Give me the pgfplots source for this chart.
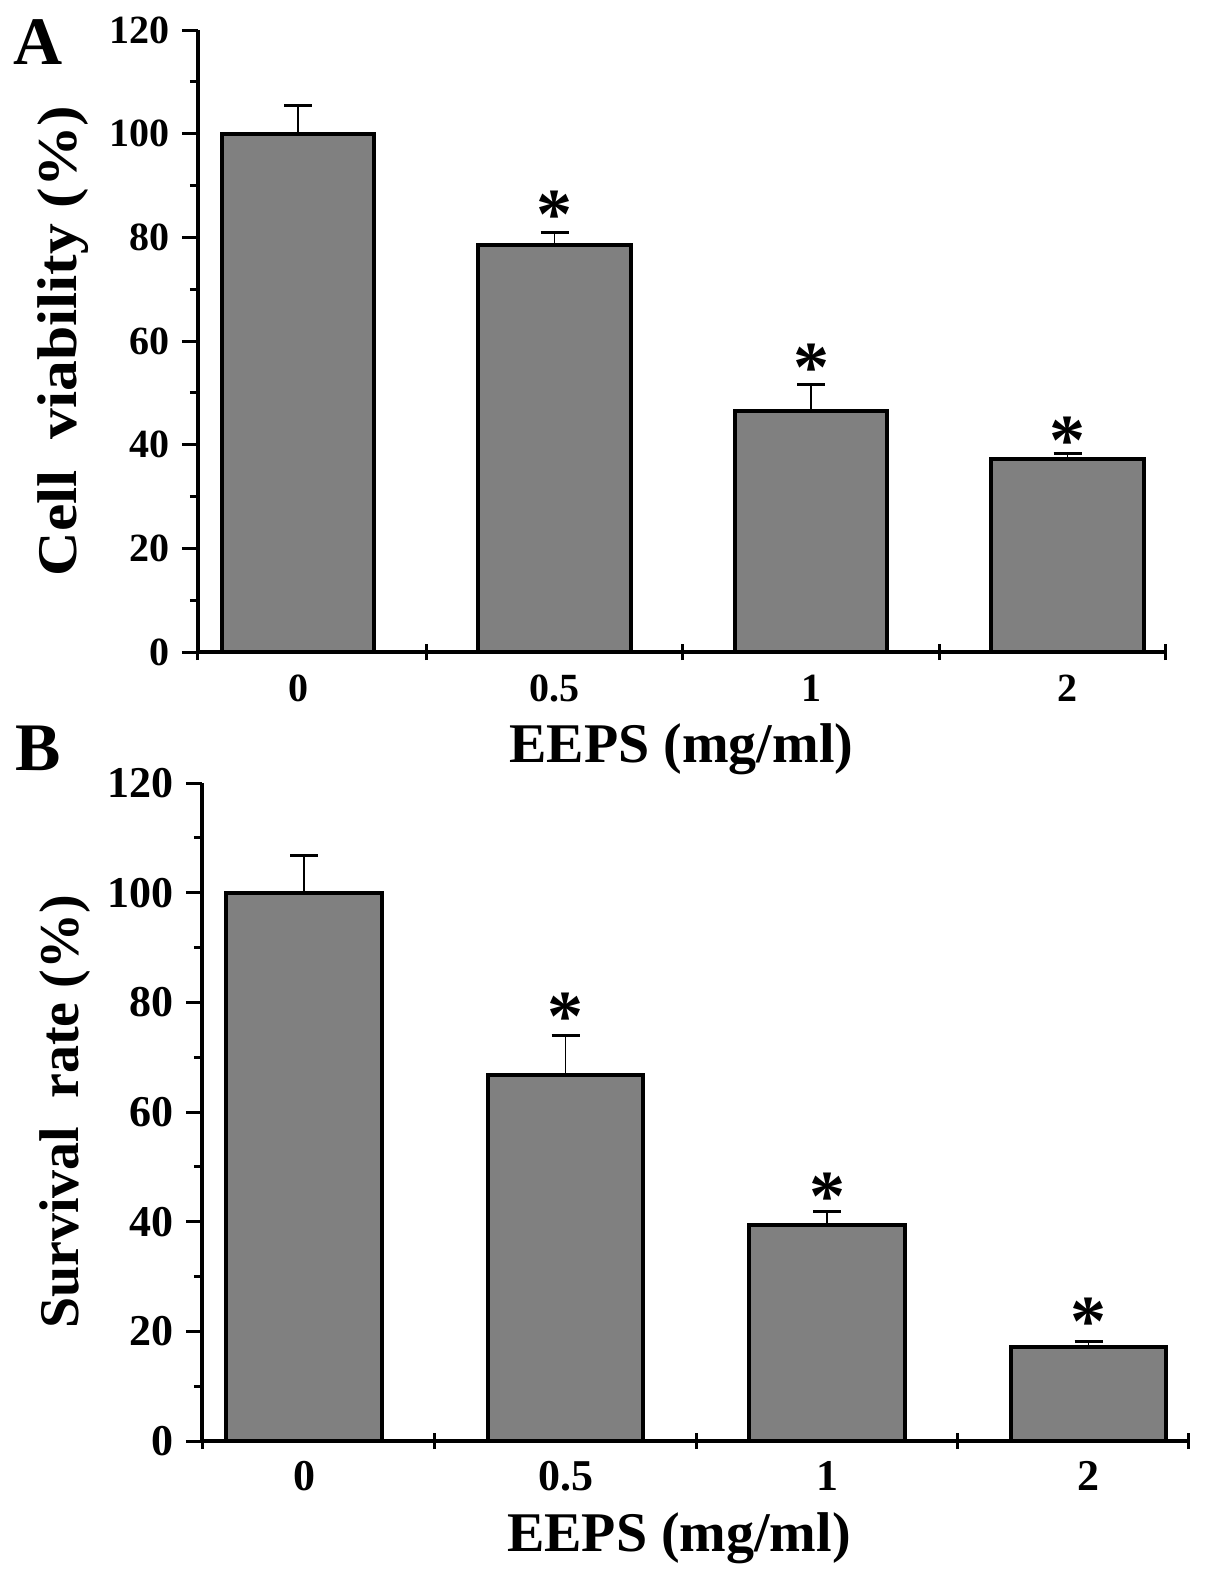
\documentclass[border=0pt]{standalone}
\usepackage{fontspec}
\setmainfont{Liberation Serif}
\usepackage{pgfplots}
\pgfplotsset{compat=1.18}
\definecolor{barfill}{HTML}{808080}

\pgfplotsset{
  panel/.style={
    scale only axis,
    axis x line*=bottom, axis y line*=left,
    axis line style={line width=2pt, -},
    xmin=-0.39, xmax=3.38,
    ymin=0, ymax=120,
    ytick={0,20,...,120},
    minor y tick num=1,
    xtick={-0.39,0.5,1.5,2.5,3.38},
    xticklabels={},
    extra x ticks={0,1,2,3},
    extra x tick labels={0,0.5,1,2},
    extra x tick style={major tick length=0pt},
    xtick align=center,
    ytick align=outside,
    major tick length=8pt,
    minor tick length=4pt,
    every tick/.style={black, line width=1.5pt},
    /pgf/number format/assume math mode=true,
    yticklabel style={anchor=east, inner sep=0pt, xshift=-6pt},
    xticklabel style={anchor=base, inner sep=0pt, yshift=-24.5pt},
    every axis y label/.style={at={([xshift=-67.5pt]axis description cs:0,0.5)},
      rotate=90, anchor=center, font=\bfseries\fontsize{28}{30}\selectfont},
    every axis x label/.style={at={([yshift=-55pt]axis description cs:0.5,0)},
      anchor=base, font=\bfseries\fontsize{28}{30}\selectfont},
  },
  bars/.style={
    ybar, bar width=0.595, fill=barfill, draw=black, line width=2pt,
    error bars/.cd, y dir=plus, y explicit,
    error bar style={line width=0.75pt},
    error mark options={rotate=90, mark size=7pt, line width=1.5pt},
  },
  stars/.style={
    draw=none, mark=none,
    nodes near coords={*},
    every node near coord/.style={anchor=center, inner sep=0pt, yshift=-5pt,
      font=\bfseries\fontsize{36}{36}\selectfont},
  },
}

\begin{document}
\begin{tikzpicture}[x=1pt,y=1pt]
\useasboundingbox (0,0) rectangle (602.5,-789.5);

% panel A
\node[font=\bfseries\fontsize{34}{34}\selectfont] at (19,-21) {A};
\begin{axis}[panel,
    at={(99pt,-326pt)}, anchor=south west,
    width=483.5pt, height=311pt,
    ticklabel style={font=\bfseries\fontsize{20}{22}\selectfont},
    ylabel={\scalebox{1.1}[1]{Cell\hspace{0.5em}viability (\%)}},
    xlabel={EEPS (mg/ml)}]
\addplot[bars] coordinates {
    (0,100)  +- (0,5.5)
    (1,78.5) +- (0,2.5)
    (2,46.5) +- (0,5.2)
    (3,37.2) +- (0,1.1)
};
\addplot[stars] coordinates {(1,86.2) (2,56.7) (3,42.7)};
\end{axis}

% panel B
\node[font=\bfseries\fontsize{34}{34}\selectfont] at (19,-374) {B};
\begin{axis}[panel,
    at={(101pt,-720.5pt)}, anchor=south west,
    width=493pt, height=329pt,
    ticklabel style={font=\bfseries\fontsize{22}{24}\selectfont},
    ylabel style={at={([xshift=-68.5pt]axis description cs:0,0.5)}},
    xlabel style={at={([xshift=-8pt,yshift=-55pt]axis description cs:0.5,0)}},
    ylabel={Survival\hspace{0.5em}rate (\%)},
    xlabel={EEPS (mg/ml)}]
\addplot[bars] coordinates {
    (0,100)  +- (0,6.7)
    (1,66.8) +- (0,7.2)
    (2,39.4) +- (0,2.5)
    (3,17.1) +- (0,1.0)
};
\addplot[stars] coordinates {(1,79.2) (2,46.3) (3,23.5)};
\end{axis}
\end{tikzpicture}
\end{document}
